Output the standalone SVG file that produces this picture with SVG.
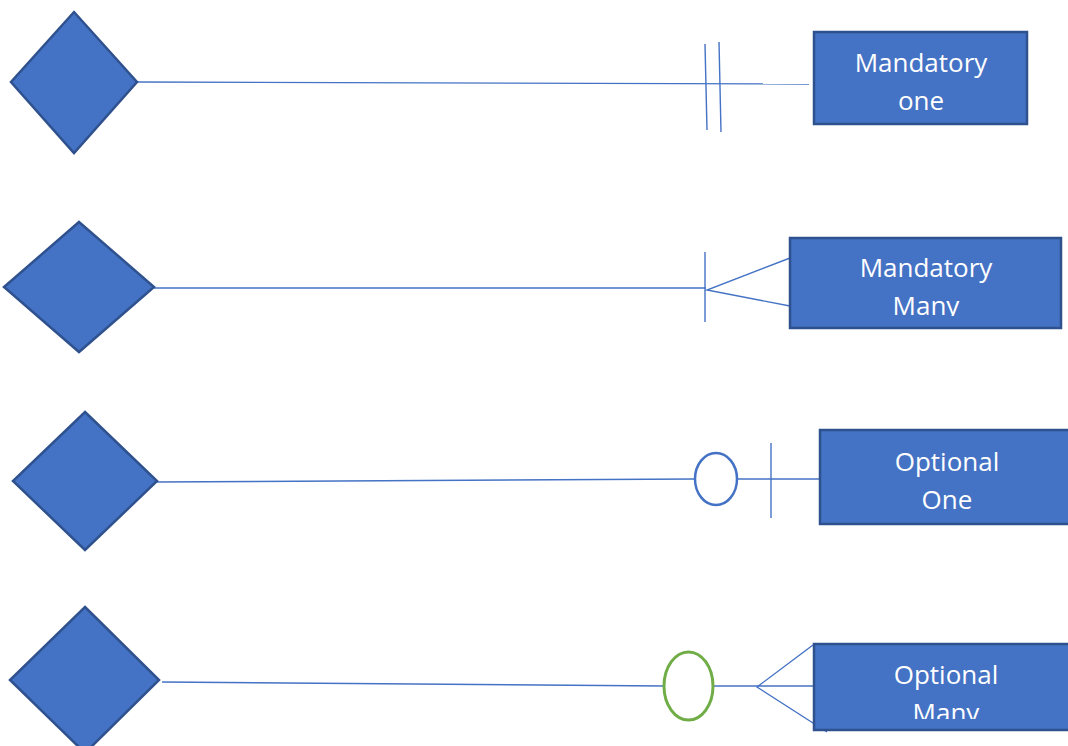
<svg xmlns="http://www.w3.org/2000/svg" width="1068" height="746" viewBox="0 0 1068 746">
<defs>
<style>
.shape{fill:#4472C4;stroke:#2F528F;stroke-width:2.5}
.ln{fill:none;stroke:#4472C4;stroke-width:1.4}
.lbl{font-family:"Open Sans","Liberation Sans",sans-serif;font-size:26px;fill:#FFFFFF;text-anchor:middle}
</style>
<clipPath id="c2"><rect x="790" y="238" width="272" height="78"/></clipPath>
<clipPath id="c4"><rect x="814" y="644" width="254" height="75"/></clipPath>
</defs>
<rect width="1068" height="746" fill="#FFFFFF"/>
<g id="connectors">
<line class="ln" x1="137" y1="82" x2="809" y2="84"/>
<line class="ln" x1="705" y1="44" x2="707" y2="130"/>
<line class="ln" x1="719" y1="42" x2="721" y2="132"/>
<line class="ln" x1="154" y1="288" x2="706" y2="288"/>
<line class="ln" x1="705" y1="252" x2="705" y2="322"/>
<polyline class="ln" points="790,258 707,290 790,306"/>
<line class="ln" x1="157" y1="482" x2="695" y2="479"/>
<line class="ln" x1="737" y1="479" x2="820" y2="479"/>
<line class="ln" x1="771" y1="443" x2="771" y2="518"/>
<line class="ln" x1="162" y1="682" x2="664" y2="686"/>
<line class="ln" x1="713" y1="686" x2="814" y2="686"/>
<polyline class="ln" points="813,645 757,687 827,732"/>
</g>
<g id="rel1"><polygon class="shape" points="74,12 137,82 74,153 11,82"/></g>
<g id="rel2"><polygon class="shape" points="79,222 154,287 79,352 4,287"/></g>
<g id="rel3"><polygon class="shape" points="85,412 157,481 85,550 13,481"/></g>
<g id="rel4"><polygon class="shape" points="85,607 159,680 85,753 10,680"/></g>
<g id="circle-one"><ellipse cx="716" cy="479" rx="21" ry="26" fill="#FFFFFF" stroke="#4472C4" stroke-width="2.5"/></g>
<g id="circle-many"><ellipse cx="688.5" cy="686" rx="24.5" ry="34" fill="#FFFFFF" stroke="#70AD47" stroke-width="3"/></g>
<g id="mandatory-one">
<rect class="shape" x="814" y="32" width="213" height="92"/>
<text class="lbl" x="921" y="72">Mandatory</text>
<text class="lbl" x="921" y="110">one</text>
</g>
<g id="mandatory-many">
<rect class="shape" x="790" y="238" width="271" height="90"/>
<g clip-path="url(#c2)">
<text class="lbl" x="926" y="277">Mandatory</text>
<text class="lbl" x="926" y="315">Many</text>
</g>
</g>
<g id="optional-one">
<rect class="shape" x="820" y="430" width="260" height="94"/>
<text class="lbl" x="947" y="471">Optional</text>
<text class="lbl" x="947" y="509">One</text>
</g>
<g id="optional-many">
<rect class="shape" x="814" y="644" width="266" height="86"/>
<g clip-path="url(#c4)">
<text class="lbl" x="946" y="684">Optional</text>
<text class="lbl" x="946" y="722">Many</text>
</g>
</g>
</svg>
